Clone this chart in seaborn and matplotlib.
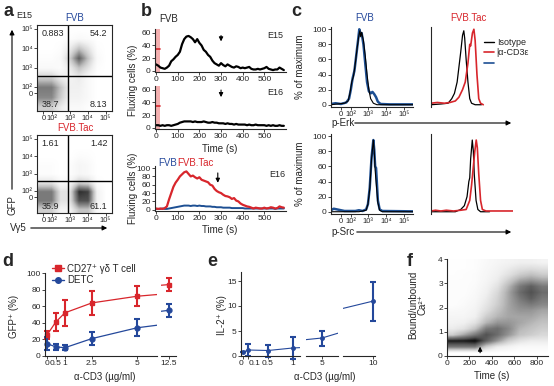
import numpy as np
import matplotlib
matplotlib.use("Agg")
import matplotlib.pyplot as plt
import seaborn as sns
from matplotlib.lines import Line2D

# -------------------------------
# Data
# -------------------------------
# a: flow density grids, rows = GFP decades 1.0..5.0, cols = Vg5 decades 1.5..5.0
flow_fvb = [
    [0.30, 0.30, 0.15, 0.05, 0.05, 0.02, 0.00, 0.00],
    [0.55, 0.55, 0.30, 0.10, 0.10, 0.05, 0.00, 0.00],
    [0.60, 0.60, 0.35, 0.12, 0.12, 0.05, 0.00, 0.00],
    [0.30, 0.30, 0.15, 0.10, 0.15, 0.05, 0.00, 0.00],
    [0.05, 0.05, 0.03, 0.15, 0.35, 0.20, 0.02, 0.00],
    [0.02, 0.02, 0.05, 0.30, 0.70, 0.35, 0.05, 0.00],
    [0.00, 0.00, 0.02, 0.15, 0.35, 0.20, 0.02, 0.00],
    [0.00, 0.00, 0.00, 0.02, 0.05, 0.03, 0.00, 0.00],
    [0.00, 0.00, 0.00, 0.00, 0.00, 0.00, 0.00, 0.00],
]
flow_tac = [
    [0.30, 0.30, 0.10, 0.10, 0.35, 0.35, 0.05, 0.00],
    [0.60, 0.60, 0.20, 0.20, 0.75, 0.75, 0.10, 0.00],
    [0.60, 0.60, 0.20, 0.20, 0.85, 0.80, 0.10, 0.00],
    [0.20, 0.20, 0.05, 0.08, 0.30, 0.25, 0.03, 0.00],
    [0.02, 0.02, 0.00, 0.02, 0.08, 0.05, 0.00, 0.00],
    [0.02, 0.02, 0.00, 0.02, 0.08, 0.05, 0.00, 0.00],
    [0.00, 0.00, 0.00, 0.00, 0.03, 0.02, 0.00, 0.00],
    [0.00, 0.00, 0.00, 0.00, 0.00, 0.00, 0.00, 0.00],
    [0.00, 0.00, 0.00, 0.00, 0.00, 0.00, 0.00, 0.00],
]
quad_fvb = ["0.883", "54.2", "38.7", "8.13"]
quad_tac = ["1.61", "1.42", "35.9", "61.1"]
flow_ticks = ["0", "10²", "10³", "10⁴", "10⁵"]

# b: fluxing cells (%) every 10 s
b_time = np.arange(0, 600, 10)
fvb_e15 = [10, 8, 5, 4, 3, 5, 8, 15, 18, 22, 25, 30, 42, 50, 54, 55, 53, 50, 45, 50,
           44, 40, 33, 30, 25, 22, 16, 12, 10, 8, 12, 9, 7, 10, 8, 6, 5, 7, 6, 4,
           5, 4, 5, 6, 3, 2, 2, 3, 2, 3, 4, 6, 3, 2, 1, 2, 2, 5, 3, 1]
fvb_e16 = [4, 4, 3, 4, 3, 4, 4, 3, 4, 5, 6, 8, 9, 10, 10, 10, 10, 9, 10, 9,
           9, 9, 10, 9, 8, 8, 9, 8, 8, 7, 7, 7, 6, 7, 6, 6, 5, 6, 5, 5,
           5, 5, 4, 5, 4, 4, 5, 4, 4, 4, 4, 3, 4, 3, 4, 3, 3, 4, 3, 3]
tac_e16 = [3, 2, 3, 2, 4, 8, 25, 40, 55, 65, 72, 80, 85, 90, 92, 86, 80, 82, 78, 75,
           78, 72, 70, 68, 66, 60, 58, 50, 45, 42, 40, 36, 33, 32, 30, 26, 28, 22, 20, 15,
           12, 10, 8, 7, 5, 3, 5, 4, 3, 3, 5, 3, 4, 6, 5, 3, 4, 8, 6, 5]
blue_e16 = [2, 2, 2, 3, 2, 2, 3, 4, 5, 6, 7, 8, 9, 10, 10, 10, 9, 10, 10, 9,
            10, 9, 9, 8, 8, 8, 7, 7, 6, 6, 6, 5, 5, 5, 5, 4, 4, 4, 4, 4,
            4, 3, 3, 3, 3, 3, 3, 3, 3, 3, 3, 3, 3, 3, 3, 2, 3, 3, 3, 3]

# c: histograms (% of maximum) vs log10 intensity
erk_fvb_iso_x = [0.95, 1.3, 1.7, 1.9, 2.0, 2.1, 2.2, 2.3, 2.4, 2.5, 2.55, 2.6, 2.65, 2.75, 2.85, 2.95, 3.05, 3.15, 3.3, 3.5, 5.5]
erk_fvb_iso_y = [0, 1, 2, 5, 15, 30, 38, 55, 75, 92, 98, 90, 96, 85, 65, 40, 20, 8, 2, 0, 0]
erk_fvb_cd3_x = [0.95, 1.2, 1.5, 1.8, 1.95, 2.05, 2.15, 2.25, 2.35, 2.45, 2.52, 2.58, 2.65, 2.75, 2.85, 2.95, 3.05, 3.15, 3.25, 3.35, 3.45, 3.55, 3.7, 4.2, 5.5]
erk_fvb_cd3_y = [1, 2, 1, 3, 8, 20, 35, 45, 65, 85, 100, 92, 95, 80, 55, 30, 18, 15, 17, 14, 10, 4, 1, 0.5, 0.5]
erk_tac_iso_x = [0.95, 1.5, 1.9, 2.1, 2.25, 2.4, 2.5, 2.6, 2.7, 2.77, 2.82, 2.9, 3.0, 3.1, 3.2, 3.4, 3.75]
erk_tac_iso_y = [0, 1, 2, 8, 15, 30, 50, 70, 92, 98, 88, 60, 30, 8, 2, 0, 0]
erk_tac_cd3_x = [0.95, 1.3, 1.7, 2.0, 2.3, 2.5, 2.7, 2.85, 3.0, 3.1, 3.15, 3.25, 3.33, 3.4, 3.5, 3.6, 3.7, 3.85]
erk_tac_cd3_y = [2, 3, 2, 3, 5, 10, 20, 30, 55, 80, 78, 95, 100, 85, 40, 8, 2, 0]
src_fvb_iso_x = [0.95, 2.5, 2.9, 3.0, 3.1, 3.2, 3.3, 3.35, 3.4, 3.45, 3.55, 3.65, 3.8, 5.5]
src_fvb_iso_y = [0, 0, 2, 10, 30, 70, 95, 80, 55, 40, 12, 2, 0, 0]
src_fvb_cd3_x = [0.95, 1.1, 1.3, 1.5, 1.7, 2.0, 2.3, 2.5, 2.7, 2.9, 3.0, 3.1, 3.2, 3.3, 3.35, 3.4, 3.45, 3.55, 3.65, 3.8, 5.5]
src_fvb_cd3_y = [2, 4, 3, 2, 1, 1, 1, 2, 1, 3, 10, 32, 72, 95, 82, 60, 58, 15, 3, 1, 0.5]
src_tac_iso_x = [0.95, 2.3, 2.6, 2.8, 2.95, 3.05, 3.1, 3.15, 3.24, 3.3, 3.35, 3.45, 3.55, 3.7, 4.2]
src_tac_iso_y = [0, 0, 3, 8, 20, 40, 45, 70, 95, 80, 50, 15, 3, 0, 0]
src_tac_cd3_x = [0.95, 1.2, 1.5, 1.8, 2.2, 2.6, 2.9, 3.1, 3.2, 3.3, 3.38, 3.46, 3.52, 3.6, 3.7, 3.8, 4.0, 5.5]
src_tac_cd3_y = [1, 2, 1, 2, 1, 2, 3, 15, 35, 60, 80, 95, 85, 50, 15, 3, 1, 1]

# d: GFP+ (%) vs anti-CD3 (ug/ml)
d_conc = [0, 0.5, 1, 2.5, 5, 12.5]
cd27_mean = [25, 41, 52, 64, 72, 86]
cd27_err = [5, 11, 16, 14, 12, 8]
detc_mean = [15, 11, 10, 21, 34, 55]
detc_err = [8, 4, 3, 8, 10, 8]

# e: IL-2+ (%) vs anti-CD3 (ug/ml)
e_conc = [0, 0.1, 0.5, 1, 5, 10]
il2_mean = [0.8, 1.2, 1.1, 1.6, 3.6, 11]
il2_err = [0, 1.2, 1.2, 2.2, 1.5, 3.9]

# f: density of bound/unbound Ca2+, rows = ratio 0.125..3.875, cols = time 50..850 s
ca_density = np.array([
    [0.00, 0.00, 0.00, 0.00, 0.00, 0.00, 0.00, 0.00, 0.00],
    [0.60, 0.60, 0.60, 0.30, 0.15, 0.10, 0.05, 0.05, 0.05],
    [0.90, 0.90, 0.95, 0.70, 0.50, 0.30, 0.20, 0.15, 0.15],
    [0.30, 0.45, 0.60, 0.75, 0.65, 0.50, 0.35, 0.30, 0.25],
    [0.15, 0.20, 0.35, 0.60, 0.65, 0.55, 0.40, 0.35, 0.30],
    [0.10, 0.12, 0.20, 0.40, 0.50, 0.50, 0.45, 0.40, 0.35],
    [0.08, 0.08, 0.12, 0.30, 0.40, 0.45, 0.45, 0.45, 0.40],
    [0.05, 0.06, 0.10, 0.22, 0.35, 0.45, 0.50, 0.50, 0.45],
    [0.02, 0.04, 0.08, 0.18, 0.30, 0.45, 0.55, 0.60, 0.55],
    [0.02, 0.03, 0.06, 0.15, 0.28, 0.45, 0.60, 0.70, 0.60],
    [0.02, 0.02, 0.05, 0.12, 0.25, 0.45, 0.65, 0.75, 0.65],
    [0.02, 0.02, 0.04, 0.10, 0.20, 0.40, 0.60, 0.70, 0.60],
    [0.02, 0.02, 0.03, 0.08, 0.15, 0.30, 0.45, 0.50, 0.45],
    [0.01, 0.02, 0.03, 0.07, 0.12, 0.20, 0.30, 0.35, 0.30],
    [0.01, 0.01, 0.02, 0.06, 0.10, 0.15, 0.20, 0.22, 0.20],
    [0.01, 0.01, 0.02, 0.05, 0.08, 0.10, 0.12, 0.12, 0.10],
])

# -------------------------------
# Style
# -------------------------------
sns.set_style("ticks")
plt.rcParams["font.family"] = ["Liberation Sans", "DejaVu Sans"]
plt.rcParams["axes.linewidth"] = 0.8
plt.rcParams["xtick.major.size"] = 2
plt.rcParams["ytick.major.size"] = 2
plt.rcParams["xtick.major.pad"] = 1
plt.rcParams["ytick.major.pad"] = 1
plt.rcParams["xtick.labelsize"] = 6
plt.rcParams["ytick.labelsize"] = 6

RED = "#d8262c"
BLUE = "#24489b"
NAVY = "#1d4f93"

W, H = 554, 386
fig = plt.figure(figsize=(W / 100, H / 100), dpi=100)


def box(x0, y0, x1, y1):
    return fig.add_axes([x0 / W, 1 - y1 / H, (x1 - x0) / W, (y1 - y0) / H])


def open_axes(ax):
    sns.despine(ax=ax)
    ax.tick_params(width=0.6)


def errbar(ax, xs, ys, es, **kw):
    # only the points that belong to this segment of a broken axis
    lo, hi = ax.get_xlim()
    keep = [i for i, x in enumerate(xs) if lo <= x <= hi]
    ax.errorbar([xs[i] for i in keep], [ys[i] for i in keep],
                yerr=[es[i] for i in keep], clip_on=False, **kw)


ov = fig.add_axes([0, 0, 1, 1])
ov.set_xlim(0, W)
ov.set_ylim(H, 0)
ov.axis("off")


def arrow(x0, y0, x1, y1, lw=0.8):
    ov.annotate("", xy=(x1, y1), xytext=(x0, y0),
                arrowprops=dict(arrowstyle="-|>", lw=lw, color="k", mutation_scale=7))


# -------------------------------
# a. Flow plots
# -------------------------------
for (y0, y1), grid, quads in [((25, 111), flow_fvb, quad_fvb), ((135, 213), flow_tac, quad_tac)]:
    ax = box(37, y0, 112, y1)
    ax.imshow(np.array(grid), extent=[1.25, 5.25, 0.75, 5.25], origin="lower", cmap="Greys",
              vmin=0, vmax=1, aspect="auto", interpolation="bilinear")
    ax.set_xlim(1.2, 5.35)
    ax.set_ylim(0.8, 5.2)
    ax.axvline(2.9, color="k", lw=1)
    ax.axhline(2.6, color="k", lw=1)
    ax.set_xticks([1.55, 2.05, 3, 4, 5])
    ax.set_xticklabels(flow_ticks, fontsize=5.5)
    ax.set_yticks([1.7, 2.05, 3, 4, 5])
    ax.set_yticklabels(flow_ticks, fontsize=5.5)
    ax.tick_params(width=0.6)
    ax.text(0.06, 0.95, quads[0], transform=ax.transAxes, fontsize=6.5, va="top")
    ax.text(0.94, 0.95, quads[1], transform=ax.transAxes, fontsize=6.5, va="top", ha="right")
    ax.text(0.06, 0.02, quads[2], transform=ax.transAxes, fontsize=6.5, va="bottom")
    ax.text(0.94, 0.02, quads[3], transform=ax.transAxes, fontsize=6.5, va="bottom", ha="right")

ov.text(16, 16, "E15", fontsize=6.5, va="center")
ov.text(75, 18, "FVB", fontsize=7, color=BLUE, ha="center", va="center")
ov.text(75, 128, "FVB.Tac", fontsize=7, color=RED, ha="center", va="center")
arrow(12, 192, 12, 27)
ov.text(12, 205, "GFP", fontsize=7, rotation=90, ha="center", va="center")
ov.text(10, 228, "Vγ5", fontsize=7, va="center")
arrow(28, 228, 110, 228)

# -------------------------------
# b. Fluxing traces
# -------------------------------
b1 = box(155, 29, 286, 72)
b2 = box(155, 86, 286, 129)
b3 = box(155, 166, 286, 211)
for ax in (b1, b2, b3):
    open_axes(ax)
    ax.set_xlim(-5, 600)
    ax.set_xticks([0, 100, 200, 300, 400, 500])
for ax in (b1, b2):
    ax.set_ylim(-2, 66)
    ax.set_yticks([0, 20, 40, 60])
    ax.axvspan(0, 18, color="#f4b0b0", lw=0)
    ax.plot([0, 18], [35, 35], color=RED, lw=1.2)
b3.set_ylim(-3, 105)
b3.set_yticks([0, 20, 40, 60, 80, 100])

sns.lineplot(x=b_time, y=fvb_e15, ax=b1, color="k", lw=1.6)
sns.lineplot(x=b_time, y=fvb_e16, ax=b2, color="k", lw=1.6)
sns.lineplot(x=b_time, y=blue_e16, ax=b3, color=NAVY, lw=1.4)
sns.lineplot(x=b_time, y=tac_e16, ax=b3, color=RED, lw=1.6)

b1.annotate("", xy=(300, 42), xytext=(300, 60), arrowprops=dict(arrowstyle="-|>", lw=0.8, color="k", mutation_scale=6))
b2.annotate("", xy=(300, 44), xytext=(300, 64), arrowprops=dict(arrowstyle="-|>", lw=0.8, color="k", mutation_scale=6))
b3.annotate("", xy=(285, 58), xytext=(285, 95), arrowprops=dict(arrowstyle="-|>", lw=0.8, color="k", mutation_scale=6))
b1.text(550, 55, "E15", fontsize=6.5, ha="center", va="center")
b2.text(550, 55, "E16", fontsize=6.5, ha="center", va="center")
b3.text(560, 85, "E16", fontsize=6.5, ha="center", va="center")
ov.text(159, 19, "FVB", fontsize=7, va="center")
ov.text(158, 163, "FVB", fontsize=7, color=BLUE, va="center")
ov.text(177, 163, "FVB.Tac", fontsize=7, color=RED, va="center")
ov.text(133, 80, "Fluxing cells (%)", fontsize=7, rotation=90, ha="center", va="center")
ov.text(133, 188, "Fluxing cells (%)", fontsize=7, rotation=90, ha="center", va="center")
ov.text(220, 149, "Time (s)", fontsize=7, ha="center", va="center")
ov.text(220, 230, "Time (s)", fontsize=7, ha="center", va="center")

# -------------------------------
# c. Phospho histograms
# -------------------------------
c_panels = [
    ((331, 27, 413, 107), (erk_fvb_iso_x, erk_fvb_iso_y), (erk_fvb_cd3_x, erk_fvb_cd3_y), NAVY, True),
    ((431, 27, 513, 107), (erk_tac_iso_x, erk_tac_iso_y), (erk_tac_cd3_x, erk_tac_cd3_y), RED, False),
    ((331, 134, 413, 214), (src_fvb_iso_x, src_fvb_iso_y), (src_fvb_cd3_x, src_fvb_cd3_y), NAVY, True),
    ((431, 134, 513, 214), (src_tac_iso_x, src_tac_iso_y), (src_tac_cd3_x, src_tac_cd3_y), RED, False),
]
for rect, (ix, iy), (cx, cy), col, left in c_panels:
    ax = box(*rect)
    open_axes(ax)
    ax.set_xlim(0.95, 5.5)
    ax.set_ylim(-3, 103)
    if col == NAVY:
        sns.lineplot(x=cx, y=cy, ax=ax, color=col, lw=1.8)
        sns.lineplot(x=ix, y=iy, ax=ax, color="k", lw=0.8)
    else:
        sns.lineplot(x=ix, y=iy, ax=ax, color="k", lw=0.9)
        sns.lineplot(x=cx, y=cy, ax=ax, color=col, lw=1.2)
    if left:
        ax.set_yticks([0, 20, 40, 60, 80, 100])
        ax.set_xticks([1.5, 2.05, 3, 4, 5])
        ax.set_xticklabels(flow_ticks, fontsize=5.5)
    else:
        ax.set_yticks([])
        ax.set_xticks([])
        ax.spines["bottom"].set_visible(False)

ov.text(365, 18, "FVB", fontsize=7, color=BLUE, ha="center", va="center")
ov.text(468, 18, "FVB.Tac", fontsize=7, color=RED, ha="center", va="center")
ov.text(300, 67, "% of maximum", fontsize=7, rotation=90, ha="center", va="center")
ov.text(300, 174, "% of maximum", fontsize=7, rotation=90, ha="center", va="center")
ov.text(331, 123, "p-Erk", fontsize=7, va="center")
arrow(352, 123, 514, 123)
ov.text(331, 232, "p-Src", fontsize=7, va="center")
arrow(354, 232, 514, 232)
fig.legend(handles=[Line2D([], [], color="k", lw=1), Line2D([], [], color=RED, lw=1.2),
                    Line2D([], [], color=NAVY, lw=1.2)],
           labels=["Isotype", "|α-CD3ε", ""], loc="upper left",
           bbox_to_anchor=(484 / W, 1 - 38 / H), frameon=False, fontsize=6.5,
           handlelength=1.1, labelspacing=0.15, handletextpad=0.3, borderaxespad=0,
           borderpad=0)

# -------------------------------
# d. GFP+ vs anti-CD3
# -------------------------------
d1 = box(45, 273, 157, 356)
d2 = box(161, 273, 176, 356)
d1.set_xlim(-0.1, 6.1)
d2.set_xlim(12.1, 12.9)
for ax in (d1, d2):
    open_axes(ax)
    ax.set_ylim(0, 100)
    sns.lineplot(x=d_conc, y=cd27_mean, ax=ax, color=RED, lw=0.9)
    sns.lineplot(x=d_conc, y=detc_mean, ax=ax, color=BLUE, lw=0.9)
    errbar(ax, d_conc, cd27_mean, cd27_err, fmt="s", ms=3.5, color=RED,
           elinewidth=1.5, capsize=2, capthick=1.5)
    errbar(ax, d_conc, detc_mean, detc_err, fmt="o", ms=3.5, color=BLUE,
           elinewidth=1.5, capsize=2, capthick=1.5)
d1.set_xticks([0, 0.5, 1, 2.5, 5])
d1.set_xticklabels(["0", "0.5", "1", "2.5", "5"])
d1.set_yticks([0, 20, 40, 60, 80, 100])
d2.set_xticks([12.5])
d2.set_xticklabels(["12.5"])
d2.set_yticks([])
d2.spines["left"].set_visible(False)
fig.legend(handles=[Line2D([], [], color=RED, marker="s", ms=4, lw=1),
                    Line2D([], [], color=BLUE, marker="o", ms=4, lw=1)],
           labels=["CD27⁺ γδ T cell", "DETC"], loc="upper left",
           bbox_to_anchor=(48 / W, 1 - 260 / H), frameon=False, fontsize=7,
           handlelength=1.2, labelspacing=0.15, handletextpad=0.4, borderaxespad=0)
ov.text(14, 316, "GFP⁺ (%)", fontsize=7, rotation=90, ha="center", va="center")
ov.text(105, 377, "α-CD3 (µg/ml)", fontsize=7, ha="center", va="center")

# -------------------------------
# e. IL-2+ vs anti-CD3 (broken axis)
# -------------------------------
e1 = box(241, 272, 300, 356)
e2 = box(306, 272, 338, 356)
e3 = box(343, 272, 375, 356)
for ax, lim, ticks in [(e1, (-0.05, 1.15), [0, 0.1, 0.5, 1]), (e2, (4.35, 5.65), [5]), (e3, (9.0, 10.05), [10])]:
    open_axes(ax)
    ax.set_xlim(*lim)
    ax.set_ylim(0, 16.8)
    sns.lineplot(x=e_conc, y=il2_mean, ax=ax, color=BLUE, lw=0.8)
    errbar(ax, e_conc, il2_mean, il2_err, fmt="o", ms=2.5, color=BLUE,
           elinewidth=1.5, capsize=2, capthick=1.5)
    ax.set_xticks(ticks)
    ax.set_xticklabels([f"{t:g}" for t in ticks])
    if ax is not e1:
        ax.set_yticks([])
        ax.spines["left"].set_visible(False)
e1.set_yticks([0, 5, 10, 15])
lab = e1.get_xticklabels()
lab[0].set_ha("right")
lab[1].set_ha("left")
ov.text(222, 315, "IL-2⁺ (%)", fontsize=7, rotation=90, ha="center", va="center")
ov.text(325, 377, "α-CD3 (µg/ml)", fontsize=7, ha="center", va="center")

# -------------------------------
# f. Ca2+ ratio density
# -------------------------------
fa = box(447, 259, 548, 356)
open_axes(fa)
fa.imshow(ca_density, extent=[0, 900, 0, 4], origin="lower", cmap="Greys", vmin=0, vmax=1,
          aspect="auto", interpolation="bilinear")
fa.set_xlim(0, 900)
fa.set_ylim(0, 4)
fa.set_xticks([0, 200, 400, 600, 800])
fa.set_yticks([0, 1, 2, 3, 4])
fa.annotate("", xy=(295, 0.5), xytext=(295, 0.02), arrowprops=dict(arrowstyle="-|>", lw=0.8, color="k", mutation_scale=6))
ov.text(418, 305, "Bound/unbound\nCa²⁺", fontsize=7, rotation=90, ha="center", va="center", linespacing=1.0)
ov.text(492, 376, "Time (s)", fontsize=7, ha="center", va="center")

# -------------------------------
# Panel letters
# -------------------------------
for letter, x, y in [("a", 8, 11), ("b", 146, 11), ("c", 296, 11), ("d", 8, 262), ("e", 212, 262), ("f", 410, 262)]:
    ov.text(x, y, letter, fontsize=13, fontweight="bold", ha="center", va="center")

fig.savefig("out.png", dpi=100)
